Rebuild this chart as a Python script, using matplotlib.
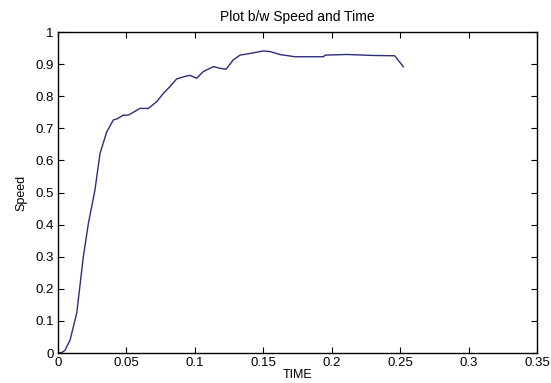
import matplotlib.pyplot as plt

plt.rcParams['font.family'] = ['Liberation Sans', 'DejaVu Sans']

# time / speed samples
time = [0.0, 0.003, 0.005, 0.0088, 0.0137, 0.0185, 0.0222, 0.027, 0.0283,
        0.0307, 0.0356, 0.0404, 0.0429, 0.0477, 0.0514, 0.0599, 0.066,
        0.0721, 0.077, 0.0818, 0.0867, 0.094, 0.0964, 0.1013, 0.1062,
        0.1135, 0.1184, 0.1228, 0.128, 0.133, 0.140, 0.150, 0.155, 0.162,
        0.173, 0.194, 0.195, 0.211, 0.230, 0.246, 0.2523]
speed = [0.0, 0.002, 0.008, 0.04, 0.125, 0.30, 0.404, 0.508, 0.549,
         0.622, 0.689, 0.726, 0.729, 0.741, 0.741, 0.762, 0.762,
         0.783, 0.809, 0.830, 0.854, 0.863, 0.865, 0.856, 0.877,
         0.892, 0.887, 0.884, 0.913, 0.928, 0.933, 0.941, 0.939, 0.930,
         0.923, 0.923, 0.928, 0.930, 0.927, 0.926, 0.892]

fig = plt.figure(figsize=(5.51, 3.83), dpi=100)
ax = fig.add_axes([0.1053, 0.0783, 0.8693, 0.8381])
ax.plot(time, speed, color='#2c2c7a', linewidth=1.0)

ax.set_xlim(0, 0.35)
ax.set_ylim(0, 1)
ax.set_xticks([0, 0.05, 0.1, 0.15, 0.2, 0.25, 0.3, 0.35])
ax.set_xticklabels(['0', '0.05', '0.1', '0.15', '0.2', '0.25', '0.3', '0.35'])
ax.set_yticks([i / 10 for i in range(11)])
ax.set_yticklabels(['0', '0.1', '0.2', '0.3', '0.4', '0.5', '0.6', '0.7',
                    '0.8', '0.9', '1'])
ax.tick_params(direction='in', length=4, top=True, right=True,
               labelsize=9.5, pad=3)
for s in ax.spines.values():
    s.set_linewidth(1.0)

ax.set_title('Plot b/w Speed and Time', fontsize=10, pad=8)
ax.set_xlabel('TIME', fontsize=9, labelpad=0)
ax.set_ylabel('Speed', fontsize=9, labelpad=6)

fig.savefig('out.png', dpi=100)
